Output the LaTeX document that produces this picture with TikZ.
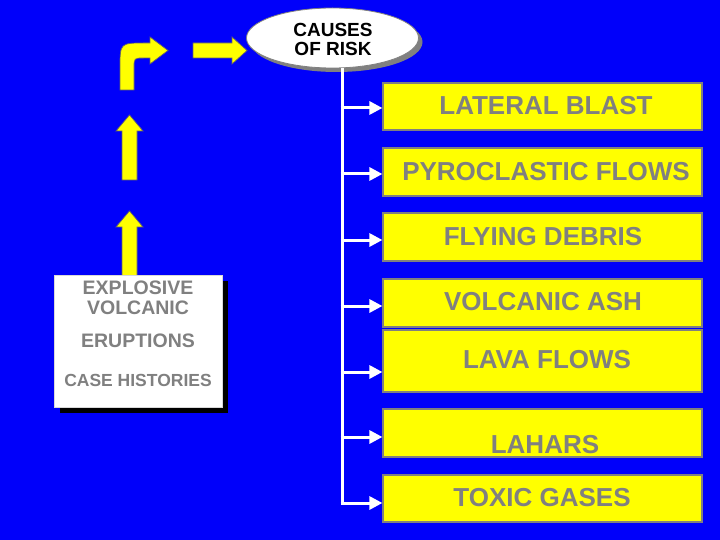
\documentclass[tikz,border=0pt]{standalone}
\usepackage{fontspec}
\setmainfont{Liberation Sans}
\usetikzlibrary{arrows.meta,shapes.geometric,shadows}
\definecolor{bgblue}{RGB}{0,0,250}
\definecolor{ylw}{RGB}{255,255,0}
\definecolor{txtgray}{RGB}{128,128,128}
\tikzset{
  riskbox/.style={draw=txtgray,line width=1.2pt,fill=ylw,minimum width=319pt,inner sep=0pt},
  risktxt/.style={text=txtgray,font=\fontsize{26}{26}\selectfont\bfseries,inner sep=0pt,anchor=center},
  histtxt/.style={text=txtgray,font=\fontsize{19.5}{19.5}\selectfont\bfseries,inner sep=0pt,anchor=center},
  yarrow/.style={fill=ylw,draw=black!60,line width=0.7pt,line join=miter},
  conn/.style={draw=white,line width=3pt,-{Triangle[length=13pt,width=13pt]}},
}
\begin{document}
\begin{tikzpicture}[x=1pt,y=-1pt]
\fill[bgblue] (0,0) rectangle (720,540);
\useasboundingbox (0,0) rectangle (720,540);

% yellow arrows
\draw[yarrow] (122,277) -- (122,227) -- (116,227) -- (129.5,211) -- (143,227) -- (137,227) -- (137,277) -- cycle;
\draw[yarrow] (122,180) -- (122,131) -- (116,131) -- (129.5,115) -- (143,131) -- (137,131) -- (137,180) -- cycle;
\draw[yarrow] (120,90) -- (120,68) .. controls (120,43) .. (145,43) -- (150,43) -- (150,37) -- (168,50.5) -- (150,64) -- (150,58) -- (144,58) .. controls (134,58) .. (134,68) -- (134,90) -- cycle;
\draw[yarrow] (193,43) -- (232,43) -- (232,37) -- (247,50.5) -- (232,64) -- (232,58) -- (193,58) -- cycle;

% ellipse
\node[ellipse,draw=txtgray,line width=0.8pt,fill=white,minimum width=172pt,minimum height=60pt,inner sep=0pt,
  drop shadow={shadow xshift=4pt,shadow yshift=-4pt,fill=txtgray,opacity=1}] (causes) at (332.5,38) {};
\node[font=\fontsize{19}{19}\selectfont\bfseries,inner sep=0pt] (c1) at (333,30) {CAUSES};
\node[font=\fontsize{19}{19}\selectfont\bfseries,inner sep=0pt] (c2) at (333,49) {OF RISK};

% left box
\fill[black] (60,281) rectangle (228,413);
\node[fill=white,draw=white!85!black,line width=0.5pt,minimum width=168pt,minimum height=132pt,inner sep=0pt] (hist) at (138,341) {};
\node[histtxt] (h1) at (138,288) {EXPLOSIVE};
\node[histtxt] (h2) at (138,308) {VOLCANIC};
\node[histtxt] (h3) at (138,341) {ERUPTIONS};
\node[histtxt,font=\fontsize{17.5}{17.5}\selectfont\bfseries] (h4) at (138,380) {CASE HISTORIES};

% yellow boxes
\node[riskbox,minimum height=47pt] (lb) at (542.5,106.5) {};
\node[riskbox,minimum height=48pt] (pf) at (542.5,172) {};
\node[riskbox,minimum height=48pt] (fd) at (542.5,237) {};
\node[riskbox,minimum height=48pt] (va) at (542.5,303) {};
\node[riskbox,minimum height=62pt] (lf) at (542.5,361) {};
\node[riskbox,minimum height=48pt] (la) at (542.5,433) {};
\node[riskbox,minimum height=47pt] (tg) at (542.5,498.5) {};

\node[risktxt] (t1) at (546,106) {LATERAL BLAST};
\node[risktxt] (t2) at (546,172) {PYROCLASTIC FLOWS};
\node[risktxt] (t3) at (543,237) {FLYING DEBRIS};
\node[risktxt] (t4) at (543,302) {VOLCANIC ASH};
\node[risktxt] (t5) at (547,360) {LAVA FLOWS};
\node[risktxt] (t6) at (545,445) {LAHARS};
\node[risktxt] (t7) at (542,498) {TOXIC GASES};

% connectors
\coordinate (s1) at (342,108);
\coordinate (s2) at (342,174);
\coordinate (s3) at (342,240);
\coordinate (s4) at (342,306);
\coordinate (s5) at (342,372);
\coordinate (s6) at (342,437);
\coordinate (s7) at (342,503);
\draw[white,line width=3pt] (causes.south -| s7) -- ([yshift=1.5pt]s7);
\draw[conn] ([xshift=-1.5pt]s1) -- (s1 -| lb.west);
\draw[conn] ([xshift=-1.5pt]s2) -- (s2 -| pf.west);
\draw[conn] ([xshift=-1.5pt]s3) -- (s3 -| fd.west);
\draw[conn] ([xshift=-1.5pt]s4) -- (s4 -| va.west);
\draw[conn] ([xshift=-1.5pt]s5) -- (s5 -| lf.west);
\draw[conn] ([xshift=-1.5pt]s6) -- (s6 -| la.west);
\draw[conn] ([xshift=-1.5pt]s7) -- (s7 -| tg.west);
\end{tikzpicture}
\end{document}
